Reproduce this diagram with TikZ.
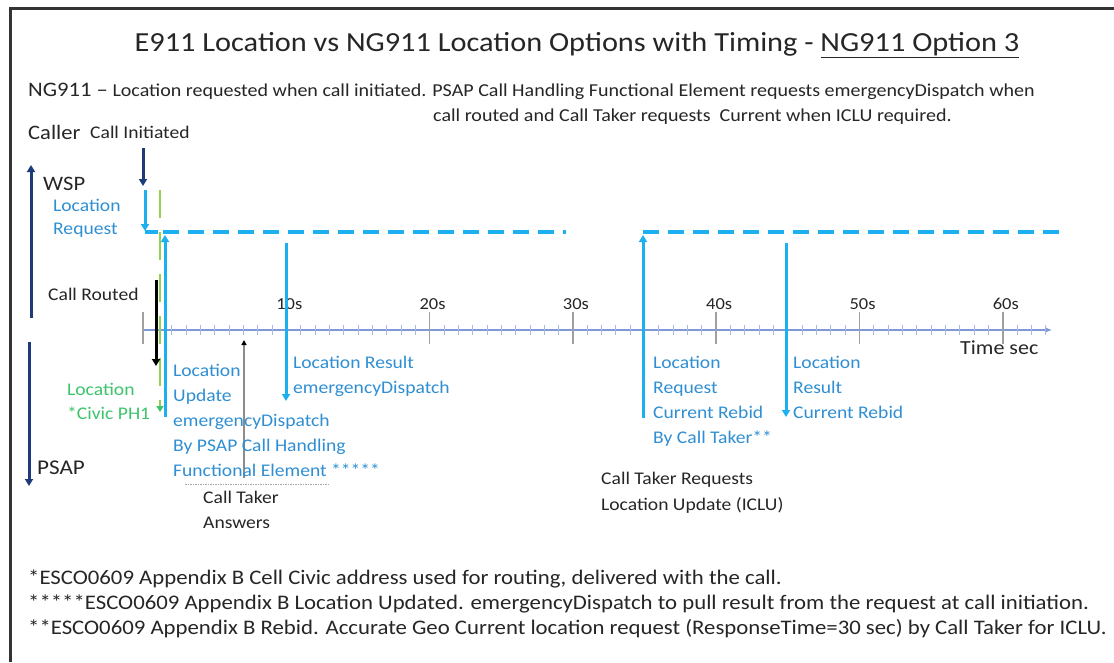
\documentclass[tikz,border=0pt]{standalone}
\usepackage{fontspec}
\setmainfont[FakeStretch=1.1]{Carlito}
\usetikzlibrary{arrows.meta}
\definecolor{navy}{HTML}{1F3A7A}
\definecolor{cyanarr}{HTML}{1CB0F0}
\definecolor{lblue}{HTML}{2F8FD2}
\definecolor{gtext}{HTML}{3CC46C}
\definecolor{gline}{HTML}{92D050}
\definecolor{axisc}{HTML}{7E98D8}
\definecolor{minc}{HTML}{A8B8E0}
\definecolor{tickc}{HTML}{A0A0A0}
\definecolor{txt}{HTML}{262626}
\newcommand\fs[2]{\fontsize{#1}{#2}\selectfont}
\begin{document}
\begin{tikzpicture}[x=1pt,y=-1pt,
  every node/.style={inner sep=0pt, text=txt},
  txtl/.style={anchor=base west, align=left},
  lbl/.style={txtl, text=lblue, font=\fs{17.8}{25}},
  glbl/.style={txtl, text=gtext, font=\fs{17.8}{24}},
  blk/.style={txtl, font=\fs{17.8}{25}},
  big/.style={txtl, font=\fs{20.5}{26}},
  tlbl/.style={anchor=base, font=\fs{16.8}{22}, text=txt},
  foot/.style={txtl, font=\fs{20.7}{25}},
  navyarr/.style={navy, line width=3pt, -{Triangle[length=7pt,width=8pt]}},
  cyarr/.style={cyanarr, line width=3pt, -{Triangle[length=7pt,width=8pt]}},
  cydash/.style={cyanarr, line width=4pt, dash pattern=on 16pt off 9pt},
  gdash/.style={gline, line width=2.5pt, dash pattern=on 28pt off 14pt, -{Triangle[length=6pt,width=7pt,gtext]}},
  blkarr/.style={black, line width=3pt, -{Triangle[length=7pt,width=8pt]}},
  grayarr/.style={black!45, line width=1.3pt, -{Triangle[length=5pt,width=5pt,black]}},
  majtick/.style={tickc, line width=1.5pt},
  mintick/.style={minc, line width=0.8pt}]
\useasboundingbox (0,0) rectangle (1114,662);
\fill[white] (0,0) rectangle (1114,662);
\draw[line width=3pt, black!80] (10,662) -- (10,8) -- (1114,8);

% title and header
\node[font=\fs{27.6}{34}] (title) at (577,45) {E911 Location vs NG911 Location Options with Timing - \underline{NG911 Option 3}};
\node[txtl, font=\fs{18.2}{25}] (ng) at (28,96) {{\fs{20.6}{25}NG911 –} Location requested when call initiated. PSAP Call Handling Functional Element requests emergencyDispatch when};
\node[txtl, font=\fs{18.2}{25}] (ng2) at (433,121) {call routed and Call Taker requests\ \ Current when ICLU required.};

% left labels
\node[big] (caller) at (28,139) {Caller};
\node[blk] (cinit) at (90,138) {Call Initiated};
\node[big] (wsp) at (43,190) {WSP};
\node[lbl, font=\fs{17.8}{23}] (lreq) at (53,234) {Location\\Request};
\node[blk] (crout) at (48,300) {Call Routed};
\node[glbl] (civic) at (67,419) {Location\\*Civic PH1};
\node[big, font=\fs{21}{26}] (psap) at (37,474) {PSAP};

% timeline axis
\coordinate (ax0) at (143,330);
\coordinate (ax1) at (1052,330);
\draw[axisc, line width=1.2pt, -{Latex[length=7pt,width=6pt]}] (ax0) -- (ax1);
\foreach \i in {1,...,63} \draw[mintick] (143+14.33*\i,325) -- (143+14.33*\i,335);
\foreach \i in {0,...,6} \draw[majtick] (143+143.3*\i,312) -- (143+143.3*\i,344);
\foreach \i in {1,...,6} \node[tlbl] (t\i) at (146+143.3*\i,309) {\i0s};
\node[txtl, font=\fs{20}{26}] (tsec) at (960,354) {Time sec};

% WSP side arrows
\coordinate (ci1) at (143,148); \coordinate (ci2) at (143,186);
\draw[navyarr] (ci1) -- (ci2);
\coordinate (wspa) at (31,318); \coordinate (wspb) at (31,165);
\draw[navyarr] (wspa) -- (wspb);
\coordinate (psa) at (29,342); \coordinate (psb) at (29,486);
\draw[navyarr] (psa) -- (psb);

\coordinate (lr1) at (145,190); \coordinate (lr2) at (145,231); \coordinate (lr3) at (145,232); \coordinate (lr4) at (158,232);
\draw[cyarr] (lr1) -- (lr2);
\draw[cyanarr, line width=4pt] (lr3) -- (lr4);
\coordinate (d1a) at (163,232); \coordinate (d1b) at (566,232);
\draw[cydash] (d1a) -- (d1b);
\coordinate (d2a) at (643,232); \coordinate (d2b) at (1062,232);
\draw[cydash] (d2a) -- (d2b);

\coordinate (g1) at (160,190); \coordinate (g2) at (160,412);
\draw[gdash] (g1) -- (g2);
\coordinate (bk1) at (156,280); \coordinate (bk2) at (156,366);
\draw[blkarr] (bk1) -- (bk2);
\coordinate (u1) at (165,417); \coordinate (u2) at (165,235);
\draw[cyarr] (u1) -- (u2);
\coordinate (r1) at (286,243); \coordinate (r2) at (286,401);
\draw[cyarr] (r1) -- (r2);
\coordinate (q1) at (643,418); \coordinate (q2) at (643,235);
\draw[cyarr] (q1) -- (q2);
\coordinate (s1) at (786,243); \coordinate (s2) at (786,417);
\draw[cyarr] (s1) -- (s2);
\coordinate (ca1) at (244,478); \coordinate (ca2) at (244,340);
\draw[grayarr] (ca1) -- (ca2);
\coordinate (dt1) at (185,484); \coordinate (dt2) at (328,484);
\draw[black!35, line width=1pt, dash pattern=on 1.5pt off 1pt] (dt1) -- (dt2);

% blue labels (base = last line)
\node[lbl] (upd) at (173,476) {Location\\Update\\emergencyDispatch\\By PSAP Call Handling\\Functional Element *****};
\node[lbl] (lres) at (293,393) {Location Result\\emergencyDispatch};
\node[lbl] (rreq) at (653,443) {Location\\Request\\Current Rebid\\By Call Taker**};
\node[lbl] (rres) at (793,418) {Location\\Result\\Current Rebid};
\node[blk] (cta) at (203,528) {Call Taker\\Answers};
\node[blk, font=\fs{17.8}{26}] (ctr) at (601,510) {Call Taker Requests\\Location Update (ICLU)};

% footnotes
\node[foot] (f1) at (28,584) {*ESCO0609 Appendix B Cell Civic address used for routing, delivered with the call.};
\node[foot] (f2) at (28,609) {*****ESCO0609 Appendix B Location Updated. emergencyDispatch to pull result from the request at call initiation.};
\node[foot] (f3) at (28,634) {**ESCO0609 Appendix B Rebid. Accurate Geo Current location request (ResponseTime=30 sec) by Call Taker for ICLU.};
\end{tikzpicture}
\end{document}
